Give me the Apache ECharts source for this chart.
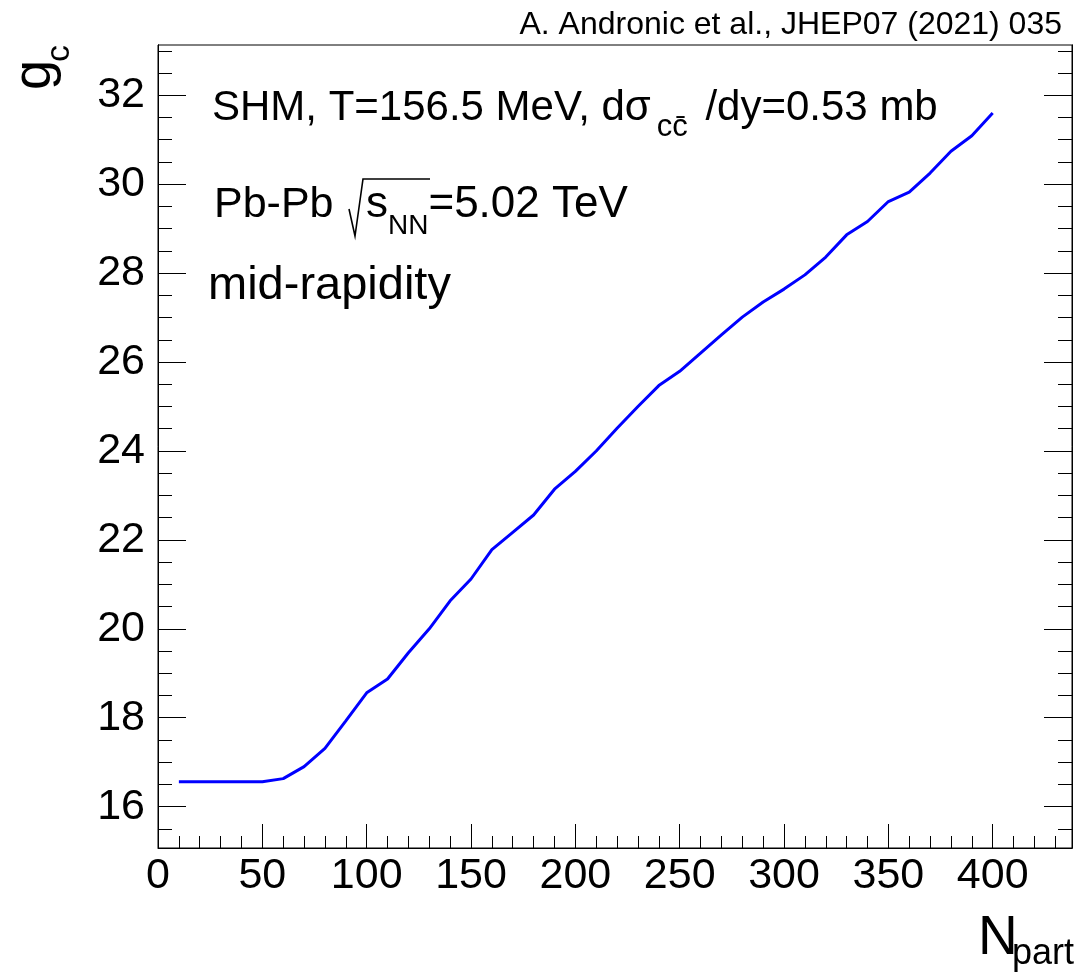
<!DOCTYPE html>
<html><head><meta charset="utf-8">
<script src="https://cdn.jsdelivr.net/npm/echarts@6/dist/echarts.min.js"></script>
<style>html,body{margin:0;padding:0;background:#fff}#c{width:1076px;height:978px}</style>
</head><body><div id="c"></div>
<script>
// ---- data ----
const nPart = [10,20,30,40,50,60,70,80,90,100,110,120,130,140,150,160,170,180,190,200,
               210,220,230,240,250,260,270,280,290,300,310,320,330,340,350,360,370,380,390,400];
const gc = [16.56,16.56,16.56,16.56,16.56,16.63,16.90,17.31,17.93,18.56,18.87,19.46,20.00,20.63,21.12,21.78,22.17,22.56,23.14,23.54,
            24.00,24.51,25.00,25.47,25.79,26.20,26.61,27.01,27.35,27.64,27.96,28.36,28.86,29.16,29.61,29.82,30.25,30.74,31.09,31.60];
const xMajorTicks = [0,50,100,150,200,250,300,350,400];
const yMajorTicks = [16,18,20,22,24,26,28,30,32];
const xMinorTicks = [];
for (let v = 10; v <= 430; v += 10) xMinorTicks.push(v);
const yMinorTicks = [];
for (let v = 15.5; v <= 33.01; v += 0.5) yMinorTicks.push(Math.round(v*10)/10);
const xRange = [0, 438];
const yRange = [15.07, 33.13];

const FF = "'Liberation Sans', Arial, Helvetica, sans-serif";
const chart = echarts.init(document.getElementById('c'), null, {renderer:'canvas'});

function xAxisDef(ticks, len, labels) {
  return {
    type:'value', min:xRange[0], max:xRange[1], position:'bottom',
    axisLine:{show:labels, lineStyle:{color:'#000', width:1}},
    axisTick:{show:true, inside:true, length:len, customValues:ticks, lineStyle:{color:'#000', width:1}},
    axisLabel:{show:labels, customValues:xMajorTicks, fontSize:43, fontFamily:FF, color:'#000', margin:7},
    splitLine:{show:false}
  };
}
function yAxisDef(pos, ticks, len, labels) {
  return {
    type:'value', min:yRange[0], max:yRange[1], position:pos,
    axisLine:{show:true, lineStyle:{color:'#000', width:1}},
    axisTick:{show:true, inside:true, length:len, customValues:ticks, lineStyle:{color:'#000', width:1}},
    axisLabel:{show:labels, customValues:yMajorTicks, fontSize:43, fontFamily:FF, color:'#000', margin:13},
    splitLine:{show:false}
  };
}

const option = {
  animation:false,
  backgroundColor:'#fff',
  grid:{left:158, right:4, top:45, bottom:130, show:true, borderColor:'#000', borderWidth:1, containLabel:false, outerBoundsMode:'none'},
  xAxis:[ xAxisDef(xMajorTicks, 24, true), xAxisDef(xMinorTicks, 12, false) ],
  yAxis:[ yAxisDef('left', yMajorTicks, 28, true), yAxisDef('left', yMinorTicks, 14, false),
          yAxisDef('right', yMajorTicks, 28, false), yAxisDef('right', yMinorTicks, 14, false) ],
  series:[{
    type:'line', xAxisIndex:0, yAxisIndex:0,
    data: nPart.map((n,i)=>[n, gc[i]]),
    showSymbol:false, symbol:'none',
    lineStyle:{color:'#0000ff', width:3}, itemStyle:{color:'#0000ff'}
  }],
  graphic:[
    {type:'text', x:1062, y:25, style:{text:'A. Andronic et al., JHEP07 (2021) 035', font:'32px '+FF, fill:'#000', align:'right', verticalAlign:'middle'}},
    // y title g_c (rotated)
    {type:'text', x:35, y:90, rotation:Math.PI/2, style:{text:'g', font:'54px '+FF, fill:'#000', align:'left', verticalAlign:'middle'}},
    {type:'text', x:60, y:62, rotation:Math.PI/2, style:{text:'c', font:'34px '+FF, fill:'#000', align:'left', verticalAlign:'middle'}},
    // x title N_part
    {type:'text', x:978, y:939, style:{text:'N', font:'55px '+FF, fill:'#000', align:'left', verticalAlign:'middle'}},
    {type:'text', x:1012, y:954, style:{text:'part', font:'36px '+FF, fill:'#000', align:'left', verticalAlign:'middle'}},
    // line 1
    {type:'text', x:212, y:87, style:{
      text:'{m|SHM, T=156.5 MeV, d\u03c3}{s|c\u0063\u0304}{m| /dy=0.53 mb}', verticalAlign:'top', align:'left',
      rich:{ m:{fontSize:42, fontFamily:FF, fill:'#000', lineHeight:42, verticalAlign:'top'},
             s:{fontSize:31, fontFamily:FF, fill:'#000', lineHeight:56, padding:[0,6,0,6], verticalAlign:'bottom'} } }},
    // line 2
    {type:'text', x:214, y:205, style:{text:'Pb-Pb', font:'43px '+FF, fill:'#000', align:'left', verticalAlign:'middle'}},
    {type:'polyline', shape:{points:[[349,209],[355,236],[363,179],[430,179]]}, style:{stroke:'#000', lineWidth:1.6, fill:null}},
    {type:'text', x:366, y:183, style:{
      text:'{m|s}{s|NN}{m|=5.02 TeV}', verticalAlign:'top', align:'left',
      rich:{ m:{fontSize:44, fontFamily:FF, fill:'#000', lineHeight:44, verticalAlign:'top'},
             s:{fontSize:28, fontFamily:FF, fill:'#000', lineHeight:57, verticalAlign:'bottom'} } }},
    // line 3
    {type:'text', x:208, y:286, style:{text:'mid-rapidity', font:'47px '+FF, fill:'#000', align:'left', verticalAlign:'middle'}}
  ]
};
chart.setOption(option);
</script>
</body></html>
